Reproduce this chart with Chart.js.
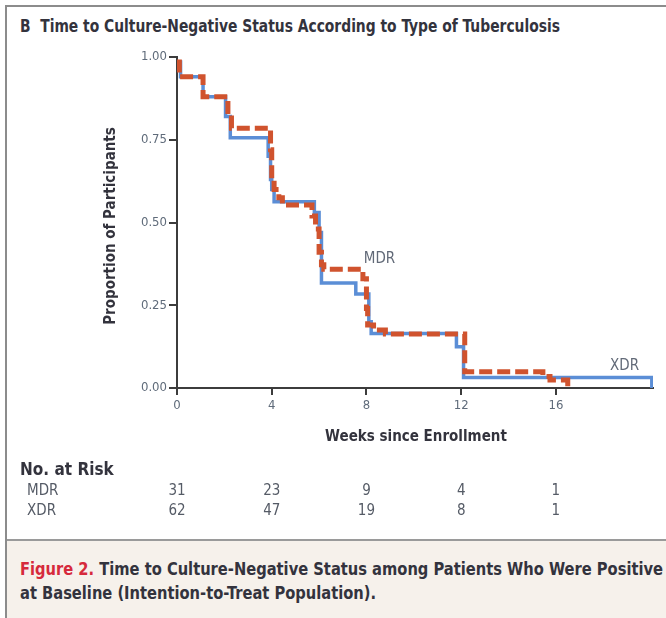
<!DOCTYPE html>
<html lang="en">
<head>
  <meta charset="UTF-8">
  <title>Time to Culture-Negative Status</title>
  <script src="https://cdn.jsdelivr.net/npm/chart.js"></script>
  <style>
    body {
      margin: 0;
      width: 666px;
      height: 618px;
      overflow: hidden;
      background: white;
      position: relative;
      font-family: 'Liberation Sans Narrow', 'DejaVu Sans Condensed', sans-serif;
    }
    .frame {
      position: absolute;
      left: 5px;
      top: 5px;
      width: 700px;
      height: 620px;
      border-left: 2px solid #8c8c8c;
      border-top: 2px solid #8c8c8c;
    }
    .title {
      position: absolute;
      left: 20px;
      top: 15px;
      font-size: 18px;
      font-weight: bold;
      color: #33333d;
      white-space: nowrap;
      transform-origin: left top;
    }
    .caption {
      position: absolute;
      left: 7px;
      top: 539px;
      width: 700px;
      height: 90px;
      background: #f6f1eb;
      border-top: 2px solid #9a9a9a;
    }
    .caption p {
      margin: 0;
      position: absolute;
      left: 13px;
      top: 16px;
      font-size: 17px;
      font-weight: bold;
      line-height: 24px;
      color: #33333d;
      white-space: nowrap;
      transform-origin: left top;
    }
    .caption span { color: #d62a3c; }
    canvas {
      position: absolute;
      left: 0;
      top: 0;
    }
  </style>
</head>
<body>
  <div class="frame"></div>
  <div class="title" id="title">B&nbsp; Time to Culture-Negative Status According to Type of Tuberculosis</div>
  <canvas id="km" width="666" height="538"></canvas>
  <div class="caption">
    <p id="cap"><span>Figure 2.</span> Time to Culture-Negative Status among Patients Who Were Positive<br>at Baseline (Intention-to-Treat Population).</p>
  </div>

  <script>
    const fontFam = "'Liberation Sans Narrow', 'DejaVu Sans Condensed', sans-serif";

    // Kaplan-Meier steps (weeks, proportion)
    const xdrWeeks = [0, 0.15, 1.1, 2.05, 2.25, 3.85, 3.95, 4.0, 4.1, 5.8, 6.0, 6.1, 7.55, 8.1, 8.2, 11.8, 12.1, 20.05];
    const xdrProp  = [0.985, 0.94, 0.88, 0.82, 0.756, 0.70, 0.63, 0.60, 0.563, 0.53, 0.47, 0.317, 0.284, 0.20, 0.165, 0.125, 0.032, 0];

    const mdrWeeks = [0, 0.1, 1.1, 2.15, 2.3, 3.95, 4.0, 4.1, 4.3, 4.45, 5.7, 5.85, 6.0, 6.1, 6.2, 7.85, 8.0, 8.05, 8.3, 8.8, 12.15, 15.45, 15.75, 16.5];
    const mdrProp  = [0.985, 0.94, 0.88, 0.816, 0.785, 0.72, 0.63, 0.60, 0.575, 0.553, 0.52, 0.48, 0.41, 0.372, 0.359, 0.33, 0.24, 0.19, 0.175, 0.163, 0.049, 0.035, 0.024, 0];

    const xTicks = [0, 4, 8, 12, 16];
    const yTicks = [0, 0.25, 0.5, 0.75, 1];

    const riskWeeks = [0, 4, 8, 12, 16];
    const mdrRisk = [31, 23, 9, 4, 1];
    const xdrRisk = [62, 47, 19, 8, 1];

    const toPoints = (xs, ys) => xs.map((x, i) => ({ x, y: ys[i] }));

    // squeeze wide text into the width it takes in the figure
    function fitWidth(el, target) {
      const w = el.getBoundingClientRect().width;
      el.style.transform = 'scaleX(' + (target / w) + ')';
    }
    fitWidth(document.getElementById('title'), 540);
    fitWidth(document.getElementById('cap'), 643);

    const extras = {
      id: 'extras',
      afterDraw(chart) {
        const ctx = chart.ctx;
        const xs = chart.scales.x;
        const ys = chart.scales.y;
        ctx.save();

        // axis titles
        ctx.fillStyle = '#33333d';
        ctx.font = 'bold 15px ' + fontFam;
        ctx.textAlign = 'center';
        ctx.textBaseline = 'middle';
        ctx.fillText('Weeks since Enrollment', 416, 437);
        ctx.save();
        ctx.translate(111, 226);
        ctx.rotate(-Math.PI / 2);
        ctx.fillText('Proportion of Participants', 0, 0);
        ctx.restore();

        // curve labels
        ctx.fillStyle = '#626a78';
        ctx.font = '15px ' + fontFam;
        ctx.fillText('MDR', xs.getPixelForValue(8.55), ys.getPixelForValue(0.39));
        ctx.fillText('XDR', xs.getPixelForValue(18.9), ys.getPixelForValue(0.066));

        // number at risk
        ctx.textAlign = 'left';
        ctx.fillStyle = '#33333d';
        ctx.font = 'bold 17px ' + fontFam;
        ctx.fillText('No. at Risk', 20, 471);
        ctx.fillStyle = '#555b66';
        ctx.font = '15px ' + fontFam;
        ctx.fillText('MDR', 27, 491);
        ctx.fillText('XDR', 27, 511);
        ctx.textAlign = 'center';
        riskWeeks.forEach((w, i) => {
          const px = xs.getPixelForValue(w);
          ctx.fillText(String(mdrRisk[i]), px, 491);
          ctx.fillText(String(xdrRisk[i]), px, 511);
        });
        ctx.restore();
      }
    };

    new Chart(document.getElementById('km'), {
      type: 'line',
      data: {
        datasets: [
          {
            label: 'XDR',
            data: toPoints(xdrWeeks, xdrProp),
            borderColor: '#5b8ed6',
            borderWidth: 3.5,
            stepped: true,
            pointRadius: 0,
            fill: false,
            order: 2
          },
          {
            label: 'MDR',
            data: toPoints(mdrWeeks, mdrProp),
            borderColor: '#d0532e',
            borderWidth: 5,
            borderDash: [13, 5],
            stepped: true,
            pointRadius: 0,
            fill: false,
            order: 1
          }
        ]
      },
      options: {
        responsive: false,
        animation: false,
        devicePixelRatio: 1,
        layout: { padding: { left: 0, top: 57, right: 13, bottom: 120 } },
        plugins: {
          legend: { display: false },
          tooltip: { enabled: false }
        },
        scales: {
          x: {
            type: 'linear',
            min: 0,
            max: 20.1,
            afterFit: s => { s.height = 30; },
            afterBuildTicks: s => { s.ticks = xTicks.map(v => ({ value: v })); },
            border: { display: true, color: '#3c3c3c', width: 2 },
            grid: { drawOnChartArea: false, drawTicks: true, tickLength: 7, color: '#3c3c3c', lineWidth: 2 },
            ticks: {
              color: '#5f6b7a',
              font: { family: fontFam, size: 13 },
              padding: 3,
              maxRotation: 0,
              autoSkip: false
            }
          },
          y: {
            min: 0,
            max: 1,
            afterFit: s => { s.width = 177; },
            afterBuildTicks: s => { s.ticks = yTicks.map(v => ({ value: v })); },
            border: { display: true, color: '#3c3c3c', width: 2 },
            grid: { drawOnChartArea: false, drawTicks: true, tickLength: 8, color: '#3c3c3c', lineWidth: 2 },
            ticks: {
              color: '#5f6b7a',
              font: { family: fontFam, size: 13 },
              padding: 2,
              callback: v => v.toFixed(2)
            }
          }
        }
      },
      plugins: [extras]
    });
  </script>
</body>
</html>
